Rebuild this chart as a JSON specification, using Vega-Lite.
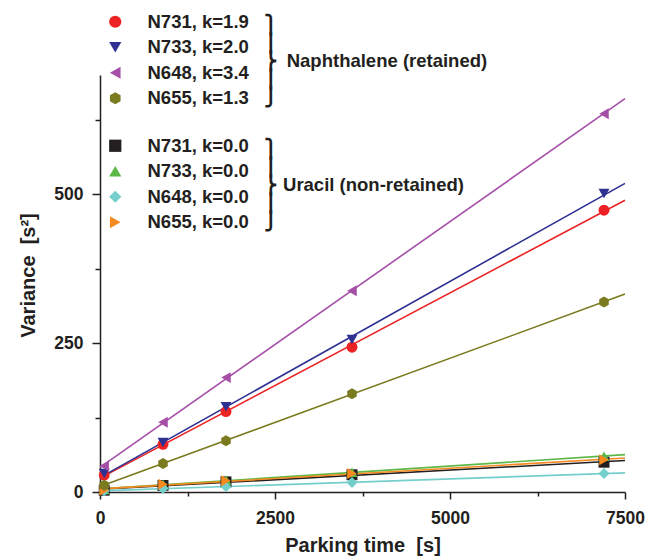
{
  "$schema": "https://vega.github.io/schema/vega-lite/v6.json",
  "width": 525,
  "height": 417,
  "autosize": "none",
  "padding": {"left": 100, "top": 75, "right": 21, "bottom": 65},
  "background": "white",
  "config": {
    "view": {"stroke": null},
    "font": "Liberation Sans",
    "axis": {
      "grid": false,
      "domainColor": "#231F20",
      "domainWidth": 1.5,
      "tickColor": "#231F20",
      "tickWidth": 1.5,
      "labelFont": "Liberation Sans",
      "labelFontSize": 17.5,
      "labelFontWeight": "bold",
      "labelColor": "#231F20",
      "titleFont": "Liberation Sans",
      "titleFontSize": 20,
      "titleFontWeight": "bold",
      "titleColor": "#231F20"
    },
    "legend": {
      "orient": "none",
      "direction": "vertical",
      "padding": 0,
      "symbolSize": 150,
      "symbolOpacity": 1,
      "symbolStrokeWidth": 0,
      "labelFont": "Liberation Sans",
      "labelFontSize": 18.5,
      "labelFontWeight": "bold",
      "labelColor": "#231F20",
      "labelOffset": 23,
      "labelLimit": 300,
      "rowPadding": 6.5,
      "titleFont": "Liberation Sans, DejaVu Sans",
      "titleFontSize": 18.5,
      "titleFontWeight": "bold",
      "titleColor": "#231F20",
      "titleLineHeight": 18,
      "titleOrient": "right",
      "titleAnchor": "middle",
      "titleAlign": "left",
      "titleLimit": 400,
      "titlePadding": 15
    }
  },
  "datasets": {
    "pts": [
      {"group": "Naph", "series": "N731, k=1.9", "t": 60, "v": 28.5},
      {"group": "Naph", "series": "N731, k=1.9", "t": 900, "v": 80},
      {"group": "Naph", "series": "N731, k=1.9", "t": 1800, "v": 135},
      {"group": "Naph", "series": "N731, k=1.9", "t": 3600, "v": 243},
      {"group": "Naph", "series": "N731, k=1.9", "t": 7200, "v": 473},
      {"group": "Naph", "series": "N733, k=2.0", "t": 60, "v": 31},
      {"group": "Naph", "series": "N733, k=2.0", "t": 900, "v": 83},
      {"group": "Naph", "series": "N733, k=2.0", "t": 1800, "v": 143},
      {"group": "Naph", "series": "N733, k=2.0", "t": 3600, "v": 256},
      {"group": "Naph", "series": "N733, k=2.0", "t": 7200, "v": 501},
      {"group": "Naph", "series": "N648, k=3.4", "t": 60, "v": 43.5},
      {"group": "Naph", "series": "N648, k=3.4", "t": 900, "v": 117},
      {"group": "Naph", "series": "N648, k=3.4", "t": 1800, "v": 192},
      {"group": "Naph", "series": "N648, k=3.4", "t": 3600, "v": 338},
      {"group": "Naph", "series": "N648, k=3.4", "t": 7200, "v": 635},
      {"group": "Naph", "series": "N655, k=1.3", "t": 60, "v": 11.5},
      {"group": "Naph", "series": "N655, k=1.3", "t": 900, "v": 48},
      {"group": "Naph", "series": "N655, k=1.3", "t": 1800, "v": 86},
      {"group": "Naph", "series": "N655, k=1.3", "t": 3600, "v": 165},
      {"group": "Naph", "series": "N655, k=1.3", "t": 7200, "v": 319},
      {"group": "Uracil", "series": "N731, k=0.0", "t": 60, "v": 3},
      {"group": "Uracil", "series": "N731, k=0.0", "t": 900, "v": 11},
      {"group": "Uracil", "series": "N731, k=0.0", "t": 1800, "v": 17},
      {"group": "Uracil", "series": "N731, k=0.0", "t": 3600, "v": 29},
      {"group": "Uracil", "series": "N731, k=0.0", "t": 7200, "v": 50},
      {"group": "Uracil", "series": "N733, k=0.0", "t": 60, "v": 4},
      {"group": "Uracil", "series": "N733, k=0.0", "t": 900, "v": 13},
      {"group": "Uracil", "series": "N733, k=0.0", "t": 1800, "v": 20},
      {"group": "Uracil", "series": "N733, k=0.0", "t": 3600, "v": 33},
      {"group": "Uracil", "series": "N733, k=0.0", "t": 7200, "v": 60},
      {"group": "Uracil", "series": "N648, k=0.0", "t": 60, "v": 2},
      {"group": "Uracil", "series": "N648, k=0.0", "t": 900, "v": 6},
      {"group": "Uracil", "series": "N648, k=0.0", "t": 1800, "v": 9},
      {"group": "Uracil", "series": "N648, k=0.0", "t": 3600, "v": 16},
      {"group": "Uracil", "series": "N648, k=0.0", "t": 7200, "v": 31},
      {"group": "Uracil", "series": "N655, k=0.0", "t": 60, "v": 3},
      {"group": "Uracil", "series": "N655, k=0.0", "t": 900, "v": 13},
      {"group": "Uracil", "series": "N655, k=0.0", "t": 1800, "v": 19},
      {"group": "Uracil", "series": "N655, k=0.0", "t": 3600, "v": 31},
      {"group": "Uracil", "series": "N655, k=0.0", "t": 7200, "v": 54}
    ]
  },
  "data": {"name": "pts"},
  "encoding": {
    "x": {
      "field": "t",
      "type": "quantitative",
      "scale": {"domain": [0, 7500], "nice": false, "zero": false},
      "axis": {
        "title": "Parking time\u00a0 [s]",
        "values": [0, 1250, 2500, 3750, 5000, 6250, 7500],
        "format": "d",
        "labelExpr": "datum.value % 2500 === 0 ? datum.label : ''",
        "tickSize": {"condition": {"test": "datum.value % 2500 === 0", "value": 7}, "value": 4},
        "labelPadding": 10,
        "titlePadding": 9,
        "labelFlush": false
      }
    },
    "y": {
      "field": "v",
      "type": "quantitative",
      "scale": {"domain": [0, 700], "nice": false},
      "axis": {
        "title": "Variance\u00a0 [s²]",
        "values": [0, 125, 250, 375, 500, 625],
        "format": "d",
        "labelExpr": "datum.value % 250 === 0 ? datum.label : ''",
        "tickSize": {"condition": {"test": "datum.value % 250 === 0", "value": 8}, "value": 5},
        "labelPadding": 9,
        "titlePadding": 15,
        "titleY": 200
      }
    }
  },
  "layer": [
    {
      "transform": [{"filter": "datum.group === 'Uracil'"}, {"regression": "v", "on": "t", "groupby": ["series"], "extent": [0, 7500]}],
      "mark": {"type": "line", "strokeWidth": 1.6},
      "encoding": {
        "stroke": {
          "field": "series", "type": "nominal", "legend": null,
          "scale": {"domain": ["N731, k=0.0", "N733, k=0.0", "N648, k=0.0", "N655, k=0.0"], "range": ["#231F20", "#5CB947", "#74CFCC", "#F6891F"]}
        }
      }
    },
    {
      "transform": [{"filter": "datum.group === 'Uracil'"}],
      "mark": {"type": "point", "filled": true, "size": 120, "opacity": 1},
      "encoding": {
        "color": {
          "field": "series", "type": "nominal",
          "scale": {"domain": ["N731, k=0.0", "N733, k=0.0", "N648, k=0.0", "N655, k=0.0"], "range": ["#231F20", "#5CB947", "#74CFCC", "#F6891F"]},
          "legend": {"title": ["⎫", "⎪", "⎬ Uracil (non-retained)", "⎪", "⎭"], "legendX": 6, "legendY": 61.5}
        },
        "shape": {
          "field": "series", "type": "nominal",
          "scale": {"domain": ["N731, k=0.0", "N733, k=0.0", "N648, k=0.0", "N655, k=0.0"], "range": ["square", "triangle-up", "diamond", "triangle-right"]},
          "legend": {"title": ["⎫", "⎪", "⎬ Uracil (non-retained)", "⎪", "⎭"], "legendX": 6, "legendY": 61.5}
        }
      }
    },
    {
      "transform": [{"filter": "datum.group === 'Naph'"}, {"regression": "v", "on": "t", "groupby": ["series"], "extent": [0, 7500]}],
      "mark": {"type": "line", "strokeWidth": 1.6},
      "encoding": {
        "stroke": {
          "field": "series", "type": "nominal", "legend": null,
          "scale": {"domain": ["N731, k=1.9", "N733, k=2.0", "N648, k=3.4", "N655, k=1.3"], "range": ["#ED2224", "#2E3192", "#A54FA7", "#7A7A1E"]}
        }
      }
    },
    {
      "transform": [{"filter": "datum.group === 'Naph'"}],
      "mark": {"type": "point", "filled": true, "size": 120, "opacity": 1},
      "encoding": {
        "color": {
          "field": "series", "type": "nominal",
          "scale": {"domain": ["N731, k=1.9", "N733, k=2.0", "N648, k=3.4", "N655, k=1.3"], "range": ["#ED2224", "#2E3192", "#A54FA7", "#7A7A1E"]},
          "legend": {"title": ["⎫", "⎪", "⎬ \u2009Naphthalene (retained)", "⎪", "⎭"], "legendX": 6, "legendY": -62.5}
        },
        "shape": {
          "field": "series", "type": "nominal",
          "scale": {"domain": ["N731, k=1.9", "N733, k=2.0", "N648, k=3.4", "N655, k=1.3"], "range": ["circle", "triangle-down", "triangle-left", "M0,-1L0.866,-0.5L0.866,0.5L0,1L-0.866,0.5L-0.866,-0.5Z"]},
          "legend": {"title": ["⎫", "⎪", "⎬ \u2009Naphthalene (retained)", "⎪", "⎭"], "legendX": 6, "legendY": -62.5}
        }
      }
    }
  ],
  "resolve": {"scale": {"color": "independent", "shape": "independent", "stroke": "independent"}}
}
